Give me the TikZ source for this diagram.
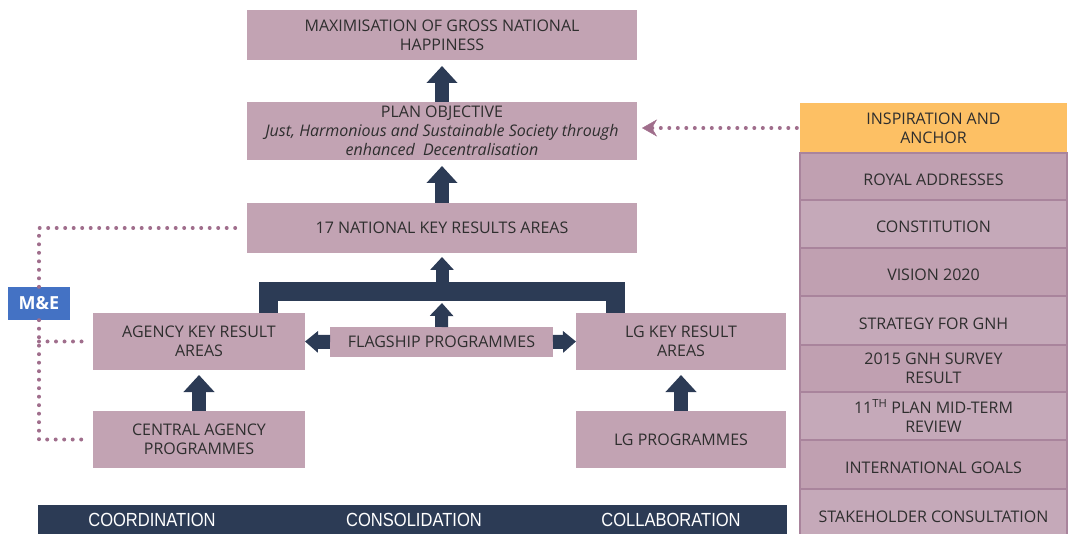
\documentclass[tikz,border=0pt]{standalone}
\usepackage{fontspec}
\setmainfont{Open Sans}
\newfontfamily\barfont[FakeStretch=0.87]{Liberation Sans}
\usepackage{tikz}
\usetikzlibrary{arrows.meta,positioning,calc}

\definecolor{boxpink}{HTML}{C2A3B3}
\definecolor{stackA}{HTML}{C0A0B1}
\definecolor{stackB}{HTML}{C5A9B9}
\definecolor{stackline}{HTML}{A9849C}
\definecolor{navy}{HTML}{2C3B55}
\definecolor{mauve}{HTML}{A06E8C}
\definecolor{anchor}{HTML}{FDC064}
\definecolor{meblue}{HTML}{4472C4}
\definecolor{textgrey}{HTML}{2E2E2E}

\begin{document}
\begin{tikzpicture}[x=1pt,y=-1pt,font=\fontsize{16}{19}\selectfont,text=textgrey]

	\tikzstyle result box=[fill=boxpink, inner sep=2pt, outer sep=0pt, align=center];
	\tikzstyle stack box=[draw=stackline, line width=2pt, minimum width=267pt, inner sep=2pt, outer sep=0pt, align=center];
	\tikzstyle single=[text height=18pt, text depth=0pt];
	\tikzstyle double=[];
	\tikzstyle block arrow=[navy, line width=14pt, -{Triangle[width=30pt,length=17pt]}];
	\tikzstyle small arrow=[navy, line width=13pt, -{Triangle[width=23pt,length=13pt]}];
	\tikzstyle me lines=[mauve, line width=4pt, line cap=round, dash pattern=on 0pt off 8.5pt];

	\useasboundingbox (0,0) rectangle (1068,534);

	% results chain
	\node[result box, minimum width=390pt, minimum height=50pt] (mgnh) at (442,35) {MAXIMISATION OF GROSS NATIONAL\\HAPPINESS};
	\node[result box, minimum width=390pt, minimum height=58pt] (obj) at (442,131) {PLAN OBJECTIVE\\\textit{Just, Harmonious and Sustainable Society through}\\\textit{enhanced\ \ Decentralisation}};
	\node[result box, minimum width=390pt, minimum height=50pt] (nkra) at (442,228) {17 NATIONAL KEY RESULTS AREAS};

	\node[result box, minimum width=212pt, minimum height=57pt] (akra) at (199,341.5) {AGENCY KEY RESULT\\AREAS};
	\node[result box, minimum width=210pt, minimum height=57pt] (lgkra) at (681,341.5) {LG KEY RESULT\\AREAS};
	\node[result box, minimum width=223pt, minimum height=30pt] (flag) at (441.5,342) {FLAGSHIP PROGRAMMES};
	\node[result box, minimum width=212pt, minimum height=57pt] (cap) at (199,439.5) {CENTRAL AGENCY\\PROGRAMMES};
	\node[result box, minimum width=210pt, minimum height=57pt] (lgp) at (681,439.5) {LG PROGRAMMES};

	\node[fill=meblue, text=white, font=\fontsize{18}{20}\selectfont\bfseries, minimum width=62pt, minimum height=33pt, inner sep=0pt] (me) at (39,303.5) {M\&E};

	% bracket joining the two key result areas
	\coordinate (bl) at (268,313);
	\coordinate (br) at (615.5,313);
	\coordinate (brk) at (442,291.5);
	\draw[navy, line width=19pt, line join=miter] (bl) -- (bl |- brk) -- (br |- brk) -- (br);

	\draw[block arrow, shorten >=6pt] (obj.north) -- (mgnh.south);
	\draw[block arrow, shorten >=6pt] (nkra.north) -- (obj.south);
	\draw[small arrow, shorten >=4pt] ($(brk)+(0,-9.5)$) -- (nkra.south);
	\draw[small arrow, shorten >=2pt] (flag.north) -- ($(brk)+(0,9.5)$);
	\draw[navy, line width=14pt, -{Triangle[width=21pt,length=13pt]}] (flag.west) -- (akra.east);
	\draw[navy, line width=14pt, -{Triangle[width=21pt,length=13pt]}] (flag.east) -- (lgkra.west);
	\draw[block arrow, shorten >=5pt] (cap.north) -- (akra.south);
	\draw[block arrow, shorten >=5pt] (lgp.north) -- (lgkra.south);

	% monitoring and evaluation
	\draw[me lines, shorten >=7pt] (me.north) |- (nkra.west);
	\draw[me lines, shorten >=7pt] (me.south) |- (cap.west);
	\draw[me lines, shorten >=7pt] (me.south |- akra.west) -- (akra.west);

	% inspiration and anchor
	\node[fill=anchor, minimum width=267pt, minimum height=50pt, inner sep=2pt, align=center] (insp) at (933.5,128) {INSPIRATION AND\\ANCHOR};
	\foreach \n/\t/\b/\c/\s/\txt in {roy/153/200/stackA/single/{ROYAL ADDRESSES},
			con/200/248/stackB/single/{CONSTITUTION},
			vis/248/296/stackA/single/{VISION 2020},
			sgnh/296/345/stackB/single/{STRATEGY FOR GNH},
			surv/345/392/stackA/double/{2015 GNH SURVEY\\RESULT},
			mtr/392/440/stackB/double/{11\textsuperscript{TH} PLAN MID-TERM\\REVIEW},
			intl/440/489/stackA/single/{INTERNATIONAL GOALS},
			stk/489/537/stackB/single/{STAKEHOLDER CONSULTATION}}
		\node[stack box, \s, fill=\c, minimum height=\b-\t] (\n) at (933.5,{(\t+\b)/2}) {\txt};

	\draw[me lines, shorten >=14pt, shorten <=3pt] (insp.west) -- (insp.west -| obj.east);
	\draw[mauve, -{Stealth[length=15pt,width=17pt,inset=5pt]}] ($(insp.west -| obj.east)+(14,0)$) -- ($(insp.west -| obj.east)+(5,0)$);

	% principles bar
	\fill[navy] (38,505) rectangle (787,534);
	\foreach \x/\txt in {152/COORDINATION,414/CONSOLIDATION,671/COLLABORATION}
		\node[text=white, font=\barfont\fontsize{19}{21}\selectfont] (\txt) at (\x,520) {\txt};

\end{tikzpicture}
\end{document}
